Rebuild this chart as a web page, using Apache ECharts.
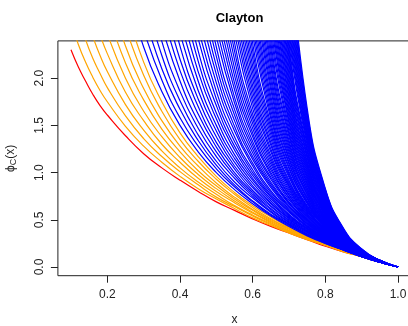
<!DOCTYPE html>
<html><head><meta charset="utf-8">
<script src="https://cdn.jsdelivr.net/npm/echarts@6/dist/echarts.min.js"></script>
<style>html,body{margin:0;padding:0;background:#fff}#c{width:408px;height:326px}</style>
</head><body><div id="c"></div>
<script>
// x positions at which every curve was read
const xGrid = [0.10,0.12,0.14,0.16,0.18,0.20,0.25,0.30,0.35,0.40,0.45,0.50,0.55,0.60,0.65,0.70,0.75,0.80,0.85,0.90,0.95,1.00];
// Clayton parameters of the curves (theta < 1 orange, theta >= 1 blue)
const thetas = [0.1,0.2,0.3,0.4,0.5,0.6,0.7,0.8,0.9,1.0,1.1,1.2,1.3,1.4,1.5,1.6,1.7,1.8,1.9,2.0,
2.1,2.2,2.3,2.4,2.5,2.6,2.7,2.8,2.9,3.0,3.1,3.2,3.3,3.4,3.5,3.6,3.7,3.8,3.9,4.0,
4.1,4.2,4.3,4.4,4.5,4.6,4.7,4.8,4.9,5.0,5.1,5.2,5.3,5.4,5.5,5.6,5.7,5.8,5.9,6.0,
6.1,6.2,6.3,6.4,6.5,6.6,6.7,6.8,6.9,7.0,7.1,7.2,7.3,7.4,7.5,7.6,7.7,7.8,7.9,8.0,
8.1,8.2,8.3,8.4,8.5,8.6,8.7,8.8,8.9,9.0,9.1,9.2,9.3,9.4,9.5,9.6,9.7,9.8,9.9,10.0];
// red limit curve, one value per xGrid entry
const phiRed = [2.30,2.12,1.97,1.83,1.71,1.61,1.39,1.20,1.05,0.92,0.80,0.69,0.60,0.51,0.43,0.36,0.29,0.22,0.16,0.11,0.05,0];
// phi values read at each x, listed by theta (only the curves that reach that x below the top edge, plus the one entering point)
const phiAt010 = [2.59];
const phiAt012 = [2.36];
const phiAt014 = [2.17,2.41];
const phiAt016 = [2.01,2.21,2.44];
const phiAt018 = [1.87,2.05,2.24,2.46];
const phiAt020 = [1.75,1.90,2.07,2.26,2.47,2.71,2.98];
const phiAt025 = [1.49,1.60,1.72,1.85,2.00,2.16,2.34,2.54,2.76,3.00];
const phiAt030 = [1.28,1.36,1.45,1.55,1.65,1.77,1.89,2.03,2.17,2.33,2.51,2.70,2.91,3.14];
const phiAt035 = [1.11,1.17,1.23,1.30,1.38,1.46,1.55,1.65,1.75,1.86,1.98,2.10,2.24,2.39,2.55,2.73,2.92,3.12];
const phiAt040 = [0.96,1.01,1.05,1.11,1.16,1.22,1.28,1.35,1.42,1.50,1.58,1.67,1.76,1.86,1.97,2.08,2.20,2.34,2.48,2.63,2.79,2.96,3.14];
const phiAt045 = [0.83,0.87,0.90,0.94,0.98,1.02,1.07,1.12,1.17,1.22,1.28,1.34,1.40,1.47,1.54,1.62,1.70,1.78,1.87,1.97,
2.07,2.18,2.29,2.42,2.54,2.68,2.83,2.98,3.15,3.32];
const phiAt050 = [0.72,0.74,0.77,0.80,0.83,0.86,0.89,0.93,0.96,1.00,1.04,1.08,1.12,1.17,1.22,1.27,1.32,1.38,1.44,1.50,
1.57,1.63,1.71,1.78,1.86,1.95,2.04,2.13,2.23,2.33,2.44,2.56,2.68,2.81,2.95,3.09,3.24,3.40,3.57];
const phiAt055 = [0.62,0.64,0.65,0.68,0.70,0.72,0.74,0.77,0.79,0.82,0.85,0.87,0.90,0.94,0.97,1.00,1.04,1.07,1.11,1.15,
1.19,1.24,1.28,1.33,1.38,1.44,1.49,1.55,1.61,1.67,1.74,1.80,1.88,1.95,2.03,2.11,2.20,2.29,2.38,2.48,
2.59,2.69,2.81,2.93,3.05,3.18,3.32,3.46,3.62,3.77];
const phiAt060 = [0.52,0.54,0.55,0.57,0.58,0.60,0.61,0.63,0.65,0.67,0.69,0.70,0.73,0.75,0.77,0.79,0.81,0.84,0.86,0.89,
0.92,0.94,0.97,1.00,1.03,1.07,1.10,1.14,1.17,1.21,1.25,1.29,1.33,1.38,1.42,1.47,1.52,1.57,1.62,1.68,
1.74,1.80,1.86,1.92,1.99,2.06,2.13,2.21,2.29,2.37,2.46,2.55,2.64,2.74,2.84,2.94,3.05,3.16,3.28,3.41,
3.53,3.67,3.81,3.95,4.10];
const phiAt065 = [0.44,0.45,0.46,0.47,0.48,0.49,0.50,0.51,0.53,0.54,0.55,0.56,0.58,0.59,0.61,0.62,0.64,0.65,0.67,0.68,
0.70,0.72,0.74,0.75,0.77,0.79,0.81,0.84,0.86,0.88,0.90,0.93,0.95,0.98,1.00,1.03,1.06,1.09,1.12,1.15,
1.18,1.22,1.25,1.29,1.32,1.36,1.40,1.44,1.48,1.52,1.57,1.61,1.66,1.71,1.76,1.81,1.87,1.92,1.98,2.04,
2.11,2.17,2.24,2.31,2.38,2.45,2.53,2.61,2.69,2.77,2.86,2.95,3.04,3.14,3.24,3.34,3.45,3.56,3.68,3.80,
3.92,4.05,4.18,4.32,4.46,4.61];
const phiAt070 = [0.36,0.37,0.38,0.38,0.39,0.40,0.41,0.41,0.42,0.43,0.44,0.45,0.45,0.46,0.47,0.48,0.49,0.50,0.51,0.52,
0.53,0.54,0.55,0.56,0.58,0.59,0.60,0.61,0.63,0.64,0.65,0.67,0.68,0.69,0.71,0.73,0.74,0.76,0.77,0.79,
0.81,0.83,0.85,0.86,0.88,0.90,0.92,0.95,0.97,0.99,1.01,1.04,1.06,1.09,1.11,1.14,1.16,1.19,1.22,1.25,
1.28,1.31,1.34,1.38,1.41,1.44,1.48,1.52,1.55,1.59,1.63,1.67,1.71,1.76,1.80,1.85,1.89,1.94,1.99,2.04,
2.10,2.15,2.21,2.26,2.32,2.38,2.44,2.51,2.57,2.64,2.71,2.78,2.86,2.93,3.01,3.09,3.18,3.26,3.35,3.44];
const phiAt075 = [0.29,0.30,0.30,0.30,0.31,0.31,0.32,0.32,0.33,0.33,0.34,0.34,0.35,0.35,0.36,0.37,0.37,0.38,0.38,0.39,
0.40,0.40,0.41,0.41,0.42,0.43,0.43,0.44,0.45,0.46,0.46,0.47,0.48,0.49,0.50,0.50,0.51,0.52,0.53,0.54,
0.55,0.56,0.57,0.58,0.59,0.60,0.61,0.62,0.63,0.64,0.65,0.67,0.68,0.69,0.70,0.72,0.73,0.74,0.76,0.77,
0.78,0.80,0.81,0.83,0.84,0.86,0.88,0.89,0.91,0.93,0.95,0.96,0.98,1.00,1.02,1.04,1.06,1.08,1.10,1.12,
1.15,1.17,1.19,1.22,1.24,1.26,1.29,1.32,1.34,1.37,1.40,1.42,1.45,1.48,1.51,1.54,1.58,1.61,1.64,1.68];
const phiAt080 = [0.23,0.23,0.23,0.23,0.24,0.24,0.24,0.24,0.25,0.25,0.25,0.26,0.26,0.26,0.27,0.27,0.27,0.27,0.28,0.28,
0.28,0.29,0.29,0.30,0.30,0.30,0.31,0.31,0.31,0.32,0.32,0.33,0.33,0.33,0.34,0.34,0.35,0.35,0.36,0.36,
0.36,0.37,0.37,0.38,0.38,0.39,0.39,0.40,0.40,0.41,0.42,0.42,0.43,0.43,0.44,0.44,0.45,0.46,0.46,0.47,
0.48,0.48,0.49,0.50,0.50,0.51,0.52,0.52,0.53,0.54,0.55,0.55,0.56,0.57,0.58,0.59,0.59,0.60,0.61,0.62,
0.63,0.64,0.65,0.66,0.67,0.68,0.69,0.70,0.71,0.72,0.73,0.74,0.75,0.76,0.77,0.78,0.79,0.81,0.82,0.83];
const phiAt085 = [0.16,0.17,0.17,0.17,0.17,0.17,0.17,0.17,0.18,0.18,0.18,0.18,0.18,0.18,0.18,0.19,0.19,0.19,0.19,0.19,
0.19,0.20,0.20,0.20,0.20,0.20,0.20,0.21,0.21,0.21,0.21,0.21,0.22,0.22,0.22,0.22,0.22,0.22,0.23,0.23,
0.23,0.23,0.24,0.24,0.24,0.24,0.24,0.25,0.25,0.25,0.25,0.26,0.26,0.26,0.26,0.27,0.27,0.27,0.27,0.28,
0.28,0.28,0.28,0.29,0.29,0.29,0.29,0.30,0.30,0.30,0.31,0.31,0.31,0.31,0.32,0.32,0.32,0.33,0.33,0.33,
0.34,0.34,0.34,0.35,0.35,0.35,0.36,0.36,0.36,0.37,0.37,0.38,0.38,0.38,0.39,0.39,0.40,0.40,0.40,0.41];
const phiAt090 = [0.11,0.11,0.11,0.11,0.11,0.11,0.11,0.11,0.11,0.11,0.11,0.11,0.11,0.11,0.11,0.11,0.12,0.12,0.12,0.12,
0.12,0.12,0.12,0.12,0.12,0.12,0.12,0.12,0.12,0.12,0.12,0.13,0.13,0.13,0.13,0.13,0.13,0.13,0.13,0.13,
0.13,0.13,0.13,0.13,0.13,0.14,0.14,0.14,0.14,0.14,0.14,0.14,0.14,0.14,0.14,0.14,0.14,0.15,0.15,0.15,
0.15,0.15,0.15,0.15,0.15,0.15,0.15,0.15,0.15,0.16,0.16,0.16,0.16,0.16,0.16,0.16,0.16,0.16,0.16,0.17,
0.17,0.17,0.17,0.17,0.17,0.17,0.17,0.17,0.17,0.18,0.18,0.18,0.18,0.18,0.18,0.18,0.18,0.18,0.19,0.19];
const phiAt095 = [0.05,0.05,0.05,0.05,0.05,0.05,0.05,0.05,0.05,0.05,0.05,0.05,0.05,0.05,0.05,0.05,0.05,0.05,0.05,0.05,
0.05,0.05,0.05,0.05,0.05,0.05,0.06,0.06,0.06,0.06,0.06,0.06,0.06,0.06,0.06,0.06,0.06,0.06,0.06,0.06,
0.06,0.06,0.06,0.06,0.06,0.06,0.06,0.06,0.06,0.06,0.06,0.06,0.06,0.06,0.06,0.06,0.06,0.06,0.06,0.06,
0.06,0.06,0.06,0.06,0.06,0.06,0.06,0.06,0.06,0.06,0.06,0.06,0.06,0.06,0.06,0.06,0.06,0.06,0.06,0.06,
0.06,0.06,0.06,0.06,0.06,0.06,0.06,0.06,0.06,0.07,0.07,0.07,0.07,0.07,0.07,0.07,0.07,0.07,0.07,0.07];
const phiAt100 = [0,0,0,0,0,0,0,0,0,0,0,0,0,0,0,0,0,0,0,0,0,0,0,0,0,0,0,0,0,0,0,0,0,0,0,0,0,0,0,0,
0,0,0,0,0,0,0,0,0,0,0,0,0,0,0,0,0,0,0,0,0,0,0,0,0,0,0,0,0,0,0,0,0,0,0,0,0,0,0,0,
0,0,0,0,0,0,0,0,0,0,0,0,0,0,0,0,0,0,0,0];
const xTicks = [0.2,0.4,0.6,0.8,1.0];
const yTicks = [0,0.5,1.0,1.5,2.0];

const phiColumns = [phiAt010,phiAt012,phiAt014,phiAt016,phiAt018,phiAt020,phiAt025,phiAt030,phiAt035,phiAt040,
  phiAt045,phiAt050,phiAt055,phiAt060,phiAt065,phiAt070,phiAt075,phiAt080,phiAt085,phiAt090,phiAt095,phiAt100];

const FONT = 'Liberation Sans, Arial, Helvetica, sans-serif';
const LW = 1.2;
const series = [];
series.push({
  type: 'line', data: xGrid.map((x, c) => [x, phiRed[c]]),
  showSymbol: false, symbol: 'none', smooth: 0.5, silent: true, animation: false,
  lineStyle: { color: '#FF0000', width: LW }
});
thetas.forEach((t, i) => {
  const pts = [];
  phiColumns.forEach((col, c) => { if (i < col.length) pts.push([xGrid[c], col[i]]); });
  series.push({
    type: 'line', data: pts, showSymbol: false, symbol: 'none', smooth: 0.5,
    silent: true, animation: false, clip: true,
    lineStyle: { color: t < 1 ? '#FFA500' : '#0000FF', width: LW }
  });
});

const chart = echarts.init(document.getElementById('c'), null, { renderer: 'canvas' });
chart.setOption({
  animation: false,
  backgroundColor: '#ffffff',
  title: {
    text: 'Clayton', left: 234.5, top: 7, textAlign: 'center',
    textStyle: { fontFamily: FONT, fontSize: 13, fontWeight: 'bold', color: '#000' }
  },
  grid: {
    left: 57.9, top: 40.9, width: 353.2, height: 234.8,
    show: true, borderColor: '#222', borderWidth: 1, containLabel: false, outerBoundsMode: 'none'
  },
  xAxis: {
    type: 'value', min: 0.0640, max: 1.0360,
    name: 'x', nameLocation: 'middle', nameGap: 38,
    nameTextStyle: { fontFamily: FONT, fontSize: 12, color: '#222' },
    axisLine: { show: false, onZero: false },
    axisTick: { show: true, inside: false, length: 7, customValues: xTicks, lineStyle: { color: '#222' } },
    axisLabel: { customValues: xTicks, formatter: v => v.toFixed(1), margin: 13,
      fontFamily: FONT, fontSize: 12, color: '#222' },
    splitLine: { show: false }
  },
  yAxis: {
    type: 'value', min: -0.0921, max: 2.3947,
    name: '{p|ϕ}{s|C}{p|(x)}', nameLocation: 'middle', nameGap: 40, nameRotate: 90,
    nameTextStyle: { fontFamily: FONT, fontSize: 12, color: '#222',
      rich: { p: { fontFamily: FONT, fontSize: 12, color: '#222' },
              s: { fontFamily: FONT, fontSize: 9, color: '#222', padding: [5, 0, 0, 0] } } },
    axisLine: { show: false, onZero: false },
    axisTick: { show: true, inside: false, length: 7, customValues: yTicks, lineStyle: { color: '#222' } },
    axisLabel: { customValues: yTicks, formatter: v => v.toFixed(1), rotate: 90, margin: 12,
      fontFamily: FONT, fontSize: 12, color: '#222' },
    splitLine: { show: false }
  },
  series: series
});
</script></body></html>
